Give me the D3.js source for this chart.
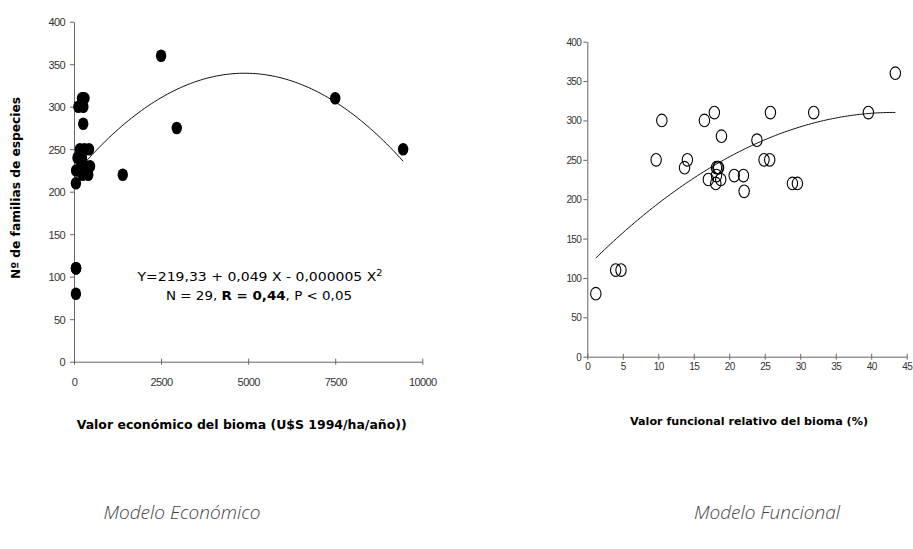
<!DOCTYPE html>
<html><head><meta charset="utf-8">
<script src="https://cdn.jsdelivr.net/npm/d3@7"></script>
<style>
body{margin:0;background:#fff;}
svg{display:block;}
.tick text{font-family:"Liberation Sans Narrow","Arial Narrow","Liberation Sans",sans-serif;fill:#333;letter-spacing:-0.6px;}
</style></head>
<body><svg id="c" width="913" height="549"></svg>
<script>
// ---------- Data ----------
// Modelo Económico: valor económico (U$S 1994/ha/año) vs Nº de familias
const econX = [2500, 2950, 1400, 7500, 9450, 55, 55, 60,
  300, 260, 230, 125, 270, 265, 170, 300, 430, 100, 160, 230, 200, 330, 460, 60, 150, 250, 410, 55, 60];
const econY = [360, 275, 220, 310, 250, 110, 80, 110,
  310, 310, 310, 300, 300, 280, 250, 250, 250, 240, 240, 240, 230, 230, 230, 225, 225, 220, 220, 210, 110];
// Modelo Funcional: valor funcional relativo (%) vs Nº de familias
const funcX = [43.4, 10.5, 9.7, 14.1, 13.7, 16.5, 17.9, 18.9, 18.4, 18.2, 17.05, 18.1, 18.8, 18.2, 20.7,
  22.0, 22.1, 23.9, 24.9, 25.7, 25.8, 31.9, 39.6, 28.9, 29.6, 1.2, 4.0, 4.75, 18.5];
const funcY = [360, 300, 250, 250, 240, 300, 310, 280, 240, 240, 225, 220, 225, 230, 230,
  230, 210, 275, 250, 250, 310, 310, 310, 220, 220, 80, 110, 110, 240];
// Trend coefficients [a, b, c]: y = a + b x + c x^2
const econTrend = [219.33, 0.049, -0.000005];
const funcTrend = [114.6, 9.05, -0.1047];
const econXTicks = [0, 2500, 5000, 7500, 10000];
const funcXTicks = [0, 5, 10, 15, 20, 25, 30, 35, 40, 45];
const yTicks = [0, 50, 100, 150, 200, 250, 300, 350, 400];

const svg = d3.select("#c");
svg.append("rect").attr("width", 913).attr("height", 549).attr("fill", "#fff");
const titleFont = "'DejaVu Sans', 'Noto Sans', sans-serif";

function panel(o) {
  const g = svg.append("g");
  const x = d3.scaleLinear().domain(o.xDomain).range(o.xRange);
  const y = d3.scaleLinear().domain([0, 400]).range(o.yRange);
  // y axis
  const ya = g.append("g").attr("transform", `translate(${o.xRange[0]},0)`)
    .call(d3.axisLeft(y).tickValues(yTicks).tickSize(4).tickSizeOuter(0).tickPadding(o.yPad));
  ya.select(".domain").attr("stroke", "#666");
  ya.selectAll(".tick line").attr("stroke", "#666");
  ya.selectAll(".tick text").attr("font-size", o.fs).attr("dy", "0.35em");
  // x axis
  const xa = g.append("g").attr("transform", `translate(0,${o.yRange[0]})`)
    .call(d3.axisBottom(x).tickValues(o.xTicks).tickSize(3).tickSizeOuter(0).tickFormat(d3.format("d")));
  xa.select(".domain").attr("stroke", "#666");
  xa.selectAll(".tick line").attr("stroke", "#666").attr("y1", -3).attr("y2", 3);
  xa.selectAll(".tick text").attr("font-size", o.fs).attr("y", o.xLabOff).attr("dy", "0.35em");
  // trend
  const xs = d3.range(0, 101).map(i => o.tMin + (o.tMax - o.tMin) * i / 100);
  const f = v => o.trend[0] + o.trend[1] * v + o.trend[2] * v * v;
  g.append("path").attr("d", d3.line().x(d => x(d)).y(d => y(f(d)))(xs))
    .attr("fill", "none").attr("stroke", "#111").attr("stroke-width", 1);
  // points
  g.selectAll("ellipse.p").data(o.xv.map((v, i) => [v, o.yv[i]])).join("ellipse")
    .attr("cx", d => x(d[0])).attr("cy", d => y(d[1]))
    .attr("rx", 5.2).attr("ry", 6.3)
    .attr("fill", o.filled ? "#000" : "none")
    .attr("stroke", "#000").attr("stroke-width", o.filled ? 0 : 1.1);
  return { x, y, g };
}

const L = panel({ xDomain: [0, 10000], xRange: [74, 422.3], yRange: [361.7, 21.7], xTicks: econXTicks, yPad: 5,
  fs: 11, xLabOff: 20, trend: econTrend, tMin: 55, tMax: 9450, xv: econX, yv: econY, filled: true });
const R = panel({ xDomain: [0, 45], xRange: [587.3, 906.7], yRange: [356.7, 41.7], xTicks: funcXTicks, yPad: 2,
  fs: 10, xLabOff: 10, trend: funcTrend, tMin: 1.2, tMax: 43.4, xv: funcX, yv: funcY, filled: false });

// Axis titles
svg.append("text").attr("transform", "translate(20,188) rotate(-90)").attr("text-anchor", "middle")
  .attr("font-family", titleFont).attr("font-weight", "bold").attr("font-size", 12).attr("fill", "#000")
  .attr("textLength", 182).attr("lengthAdjust", "spacingAndGlyphs")
  .text("Nº de familias de especies");
svg.append("text").attr("x", 241.7).attr("y", 429).attr("text-anchor", "middle")
  .attr("font-family", titleFont).attr("font-weight", "bold").attr("font-size", 12).attr("fill", "#000")
  .attr("textLength", 330).attr("lengthAdjust", "spacingAndGlyphs")
  .text("Valor económico del bioma (U$S 1994/ha/año))");
svg.append("text").attr("x", 749).attr("y", 425).attr("text-anchor", "middle")
  .attr("font-family", titleFont).attr("font-weight", "bold").attr("font-size", 11).attr("fill", "#000")
  .attr("textLength", 238).attr("lengthAdjust", "spacingAndGlyphs")
  .text("Valor funcional relativo del bioma (%)");

// Equation annotation
const eq = svg.append("text").attr("x", 260).attr("y", 281).attr("text-anchor", "middle")
  .attr("font-family", titleFont).attr("font-size", 13).attr("fill", "#000")
  .attr("textLength", 245).attr("lengthAdjust", "spacingAndGlyphs");
eq.append("tspan").text("Y=219,33 + 0,049 X - 0,000005 X");
eq.append("tspan").attr("font-size", 9).attr("dy", -5).text("2");
const st = svg.append("text").attr("x", 259).attr("y", 299.5).attr("text-anchor", "middle")
  .attr("font-family", titleFont).attr("font-size", 13).attr("fill", "#000")
  .attr("textLength", 186).attr("lengthAdjust", "spacingAndGlyphs");
st.append("tspan").text("N = 29, ");
st.append("tspan").attr("font-weight", "bold").text("R = 0,44");
st.append("tspan").text(", P < 0,05");

// Captions
svg.append("text").attr("x", 182).attr("y", 519).attr("text-anchor", "middle")
  .attr("font-family", "'Open Sans', sans-serif").attr("font-style", "italic").attr("font-weight", 300)
  .attr("font-size", 19).attr("fill", "#444").text("Modelo Económico");
svg.append("text").attr("x", 767).attr("y", 519).attr("text-anchor", "middle")
  .attr("font-family", "'Open Sans', sans-serif").attr("font-style", "italic").attr("font-weight", 300)
  .attr("font-size", 19).attr("fill", "#444").text("Modelo Funcional");
</script></body></html>
